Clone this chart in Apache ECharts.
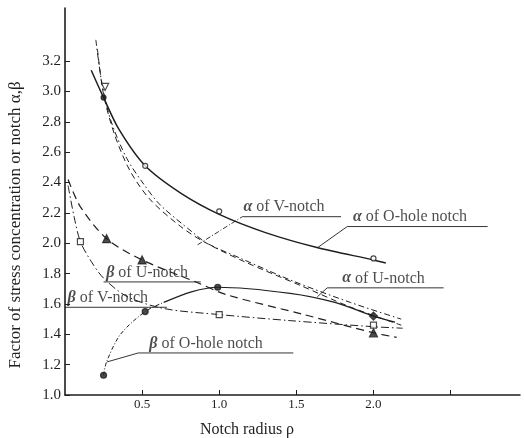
<!DOCTYPE html>
<html><head><meta charset="utf-8">
<script src="https://cdn.jsdelivr.net/npm/echarts@6/dist/echarts.min.js"></script>
<style>html,body{margin:0;padding:0;background:#fff}#c{width:524px;height:438px}</style>
</head><body><div id="c"></div>
<script>
// ---- axis ticks / labels ----
const xTickValues = [0.5, 1.0, 1.5, 2.0, 2.5];
const xLabelValues = [0.5, 1.0, 1.5, 2.0];
const yLabelValues = [1.0, 1.2, 1.4, 1.6, 1.8, 2.0, 2.2, 2.4, 2.6, 2.8, 3.0, 3.2];

// ---- curves [notch radius, factor] ----
const alphaOHole = [[0.17,3.14],[0.25,2.96],[0.35,2.75],[0.52,2.51],[0.75,2.33],[1.0,2.19],[1.3,2.07],[1.64,1.97],[2.0,1.89],[2.08,1.87]];
const alphaVNotch = [[0.20,3.34],[0.24,3.05],[0.30,2.80],[0.40,2.56],[0.51,2.39],[0.62,2.25],[0.83,2.07],[0.92,2.00],[1.14,1.90],[1.48,1.75],[1.85,1.61],[2.18,1.50]];
const alphaUNotch = [[0.21,3.28],[0.25,2.98],[0.32,2.72],[0.42,2.48],[0.55,2.29],[0.75,2.11],[0.90,2.01],[1.16,1.88],[1.53,1.72],[1.85,1.58],[2.18,1.46]];
const betaUNotch = [[0.02,2.42],[0.10,2.24],[0.27,2.03],[0.50,1.89],[0.86,1.74],[1.05,1.66],[1.55,1.53],[2.0,1.41],[2.15,1.38]];
const betaVNotch = [[0.02,2.38],[0.06,2.17],[0.10,2.01],[0.17,1.88],[0.25,1.77],[0.40,1.65],[0.64,1.57],[1.0,1.53],[1.46,1.49],[2.0,1.45],[2.19,1.44]];
const betaOHole = [[0.25,1.13],[0.27,1.22],[0.36,1.40],[0.52,1.55],[0.64,1.61],[0.82,1.68],[0.99,1.71],[1.46,1.67],[1.75,1.61],[2.0,1.52],[2.14,1.48]];

// ---- measured points (markers) ----
const alphaOHoleOpen = [[0.52,2.51],[1.0,2.21],[2.0,1.90]];
const alphaOHoleDot = [[0.25,2.96]];
const alphaTopTri = [[0.26,3.03]];
const betaUTri = [[0.27,2.03],[0.50,1.89],[2.0,1.41]];
const betaVSq = [[0.10,2.01],[1.0,1.53],[2.0,1.46]];
const betaODot = [[0.25,1.13],[0.52,1.55],[0.99,1.71]];
const betaODiamond = [[2.0,1.52]];

// ---- annotation leaders / underlines ----
const annAlphaVLeader = [[0.86,1.99],[1.15,2.175]];
const annAlphaVLine = [[1.15,2.175],[1.79,2.175]];
const annAlphaO = [[1.636,1.97],[1.83,2.11],[2.74,2.11]];
const annAlphaU = [[1.636,1.647],[1.70,1.706],[2.455,1.706]];
const annBetaU = [[0.25,1.745],[0.88,1.745]];
const annBetaV = [[0.0,1.578],[0.66,1.578]];
const annBetaO = [[0.273,1.218],[0.475,1.277],[1.48,1.277]];
const annTexts = [
  {pos:[1.16,2.175], g:'α', t:' of V-notch'},
  {pos:[1.87,2.11], g:'α', t:' of O-hole notch'},
  {pos:[1.80,1.706], g:'α', t:' of U-notch'},
  {pos:[0.27,1.745], g:'β', t:' of U-notch'},
  {pos:[0.02,1.578], g:'β', t:' of V-notch'},
  {pos:[0.55,1.277], g:'β', t:' of O-hole notch'}
];

const INK = '#1e1e1e';
const SERIF = '"Liberation Serif","DejaVu Serif",serif';

function curve(name, data, type, width) {
  return {name, type:'line', data, smooth:0.3, symbol:'none',
    lineStyle:{color:INK, width, type}, z:3, silent:true};
}
function marks(name, data, symbol, size, filled) {
  return {name, type:'scatter', data, symbol, symbolSize:size, z:5, silent:true,
    itemStyle:{color: filled ? INK : '#fff', borderColor:INK, borderWidth:1.2}};
}
function ann(name, data, type) {
  return {name, type:'line', data, symbol:'none', smooth:false,
    lineStyle:{color:INK, width:0.9, type: type || 'solid'}, z:2, silent:true};
}

const chart = echarts.init(document.getElementById('c'), null, {renderer:'canvas'});
chart.setOption({
  animation:false,
  backgroundColor:'#fff',
  grid:{left:65, right:4, top:8, bottom:43},
  xAxis:{type:'value', min:0, max:2.95, interval:0.5,
    axisLine:{lineStyle:{color:INK, width:1.5}},
    axisTick:{inside:true, length:5, customValues:xTickValues, lineStyle:{color:INK}},
    axisLabel:{customValues:xLabelValues, margin:3, color:INK, fontFamily:SERIF, fontSize:13,
      formatter:v=>v.toFixed(1)},
    splitLine:{show:false}},
  yAxis:{type:'value', min:1.0, max:3.55, interval:0.2,
    axisLine:{show:true, lineStyle:{color:INK, width:1.6}},
    axisTick:{show:true, inside:true, length:5, customValues:yLabelValues, lineStyle:{color:INK}},
    axisLabel:{customValues:yLabelValues, margin:4, color:INK, fontFamily:SERIF, fontSize:15,
      formatter:v=>v.toFixed(1)},
    splitLine:{show:false}},
  graphic:[
    {type:'text', x:16, y:225, rotation:Math.PI/2,
      style:{text:'Factor of stress concentration or notch α,β', fill:INK, font:'17px '+SERIF,
        align:'center', verticalAlign:'middle'}},
    {type:'text', x:247, y:430,
      style:{text:'Notch radius ρ', fill:INK, font:'16px '+SERIF, align:'center', verticalAlign:'middle'}}
  ],
  series:[
    curve('α of O-hole notch', alphaOHole, 'solid', 1.5),
    curve('α of V-notch', alphaVNotch, [6,3,1.5,3], 1),
    curve('α of U-notch', alphaUNotch, [6,4], 1),
    curve('β of U-notch', betaUNotch, [8,5], 1.2),
    curve('β of V-notch', betaVNotch, [8,3,1.5,3], 1),
    curve('β of O-hole notch (rise)', betaOHole.slice(0, 5), [4,2,1,2], 1),
    curve('β of O-hole notch', betaOHole.slice(4), 'solid', 1.2),
    marks('αO open', alphaOHoleOpen, 'circle', 5, false),
    marks('αO dot', alphaOHoleDot, 'circle', 5, true),
    {name:'α top tri', type:'scatter', data:alphaTopTri, symbol:'triangle', symbolRotate:180, symbolSize:7, z:5,
      itemStyle:{color:'#fff', borderColor:INK, borderWidth:1.2}},
    marks('βU tri', betaUTri, 'triangle', 8, true),
    marks('βV sq', betaVSq, 'rect', 6, false),
    marks('βO dot', betaODot, 'circle', 6, true),
    marks('βO diamond', betaODiamond, 'diamond', 8, true),
    ann('annAlphaVLeader', annAlphaVLeader, [5,2,1,2]),
    ann('annAlphaVLine', annAlphaVLine),
    ann('annAlphaO', annAlphaO),
    ann('annAlphaU', annAlphaU),
    ann('annBetaU', annBetaU),
    ann('annBetaV', annBetaV),
    ann('annBetaO', annBetaO),
    {name:'labels', type:'scatter', symbolSize:1, z:6, silent:true,
      itemStyle:{color:'rgba(0,0,0,0)'},
      data: annTexts.map(a=>({value:a.pos, g:a.g, t:a.t})),
      label:{show:true, position:[0,-1], align:'left', verticalAlign:'bottom',
        color:INK, fontFamily:SERIF, fontSize:16,
        formatter:p=>'{g|'+p.data.g+'}'+p.data.t,
        rich:{g:{fontStyle:'italic', fontWeight:'bold', fontFamily:SERIF, fontSize:16, color:INK}}}}
  ]
});
</script>
</body></html>
